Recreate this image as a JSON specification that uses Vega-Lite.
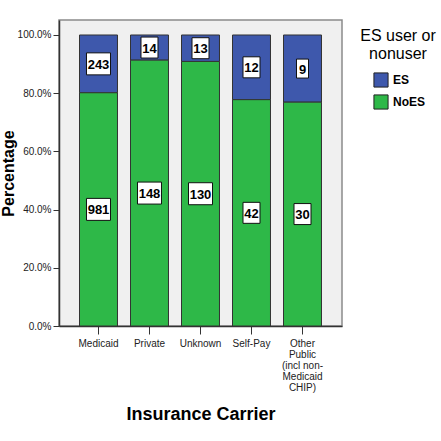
{
  "$schema": "https://vega.github.io/schema/vega-lite/v6.json",
  "autosize": "none",
  "width": 283,
  "height": 306,
  "padding": {"left": 59, "top": 20, "right": 99, "bottom": 115},
  "background": "white",
  "config": {
    "view": {"stroke": "#8a8a8a", "strokeWidth": 1.5, "fill": "#f0f0f0"},
    "font": "Liberation Sans"
  },
  "data": {
    "values": [
      {"carrier": "Medicaid", "group": "ES", "count": 243},
      {"carrier": "Medicaid", "group": "NoES", "count": 981},
      {"carrier": "Private", "group": "ES", "count": 14},
      {"carrier": "Private", "group": "NoES", "count": 148},
      {"carrier": "Unknown", "group": "ES", "count": 13},
      {"carrier": "Unknown", "group": "NoES", "count": 130},
      {"carrier": "Self-Pay", "group": "ES", "count": 12},
      {"carrier": "Self-Pay", "group": "NoES", "count": 42},
      {"carrier": "Other Public (incl non-Medicaid CHIP)", "group": "ES", "count": 9},
      {"carrier": "Other Public (incl non-Medicaid CHIP)", "group": "NoES", "count": 30}
    ]
  },
  "encoding": {
    "x": {
      "field": "carrier",
      "type": "nominal",
      "sort": ["Medicaid", "Private", "Unknown", "Self-Pay", "Other Public (incl non-Medicaid CHIP)"],
      "scale": {"paddingInner": 0.255, "paddingOuter": 0.402},
      "axis": {
        "title": "Insurance Carrier",
        "titleFont": "Liberation Sans",
        "titleFontSize": 18,
        "titleFontWeight": "bold",
        "titleColor": "#000",
        "titleBaseline": "alphabetic",
        "titleY": 93,
        "labelAngle": 0,
        "labelFontSize": 10,
        "labelColor": "#222",
        "labelPadding": 4,
        "labelLineHeight": 11,
        "labelBaseline": "top",
        "labelExpr": "datum.value == 'Other Public (incl non-Medicaid CHIP)' ? ['Other', 'Public', '(incl non-', 'Medicaid', 'CHIP)'] : datum.value",
        "tickSize": 8,
        "tickColor": "#333",
        "domainColor": "#333",
        "domainWidth": 1.5
      }
    },
    "y": {
      "field": "count",
      "type": "quantitative",
      "stack": "normalize",
      "scale": {"domain": [0, 1.0515], "nice": false},
      "axis": {
        "title": "Percentage",
        "titleFont": "Liberation Sans",
        "titleFontSize": 16,
        "titleFontWeight": "bold",
        "titleColor": "#000",
        "titleBaseline": "alphabetic",
        "titleX": -46,
        "titleY": 153,
        "titleAngle": -90,
        "titleAlign": "center",
        "values": [0, 0.2, 0.4, 0.6, 0.8, 1.0],
        "labelExpr": "format(datum.value, '.1%')",
        "grid": false,
        "labelFontSize": 10,
        "labelColor": "#222",
        "labelPadding": 2,
        "tickSize": 6,
        "tickColor": "#333",
        "domainColor": "#333",
        "domainWidth": 1.5
      }
    },
    "order": {"field": "group", "sort": "descending"}
  },
  "layer": [
    {
      "mark": {"type": "bar", "stroke": "#333", "strokeWidth": 1},
      "encoding": {
        "color": {
          "field": "group",
          "type": "nominal",
          "scale": {"domain": ["ES", "NoES"], "range": ["#3E58AC", "#2EB848"]},
          "legend": {
            "orient": "none",
            "legendX": 301,
            "legendY": 8,
            "title": ["ES user or", "nonuser"],
            "titleFont": "Liberation Sans",
            "titleFontSize": 16,
            "titleFontWeight": "normal",
            "titleColor": "#000",
            "titleLineHeight": 18,
            "titleAnchor": "middle",
            "titlePadding": 10,
            "symbolType": "square",
            "symbolSize": 200,
            "symbolStrokeColor": "#222",
            "symbolStrokeWidth": 1,
            "symbolOpacity": 1,
            "symbolOffset": 3,
            "labelFont": "Liberation Sans",
            "labelFontSize": 12,
            "labelFontWeight": "bold",
            "labelColor": "#000",
            "labelOffset": 4,
            "rowPadding": 2
          }
        }
      }
    },
    {
      "mark": {"type": "point", "filled": true, "fill": "white", "stroke": "#111", "strokeWidth": 1, "size": 4, "opacity": 1},
      "encoding": {
        "y": {"field": "count", "type": "quantitative", "stack": "normalize", "bandPosition": 0.5},
        "detail": {"field": "group"},
        "shape": {
          "condition": [
            {"test": "datum.count >= 100", "value": "M-12,-11H12V11H-12Z"},
            {"test": "datum.count >= 10", "value": "M-8.5,-10.5H8.5V10.5H-8.5Z"}
          ],
          "value": "M-6,-9.5H6V9.5H-6Z"
        }
      }
    },
    {
      "mark": {"type": "text", "font": "Liberation Sans", "fontSize": 13, "fontWeight": "bold", "color": "#000", "align": "center", "baseline": "middle", "dy": 1},
      "encoding": {
        "y": {"field": "count", "type": "quantitative", "stack": "normalize", "bandPosition": 0.5},
        "detail": {"field": "group"},
        "text": {"field": "count", "type": "quantitative"}
      }
    }
  ]
}
